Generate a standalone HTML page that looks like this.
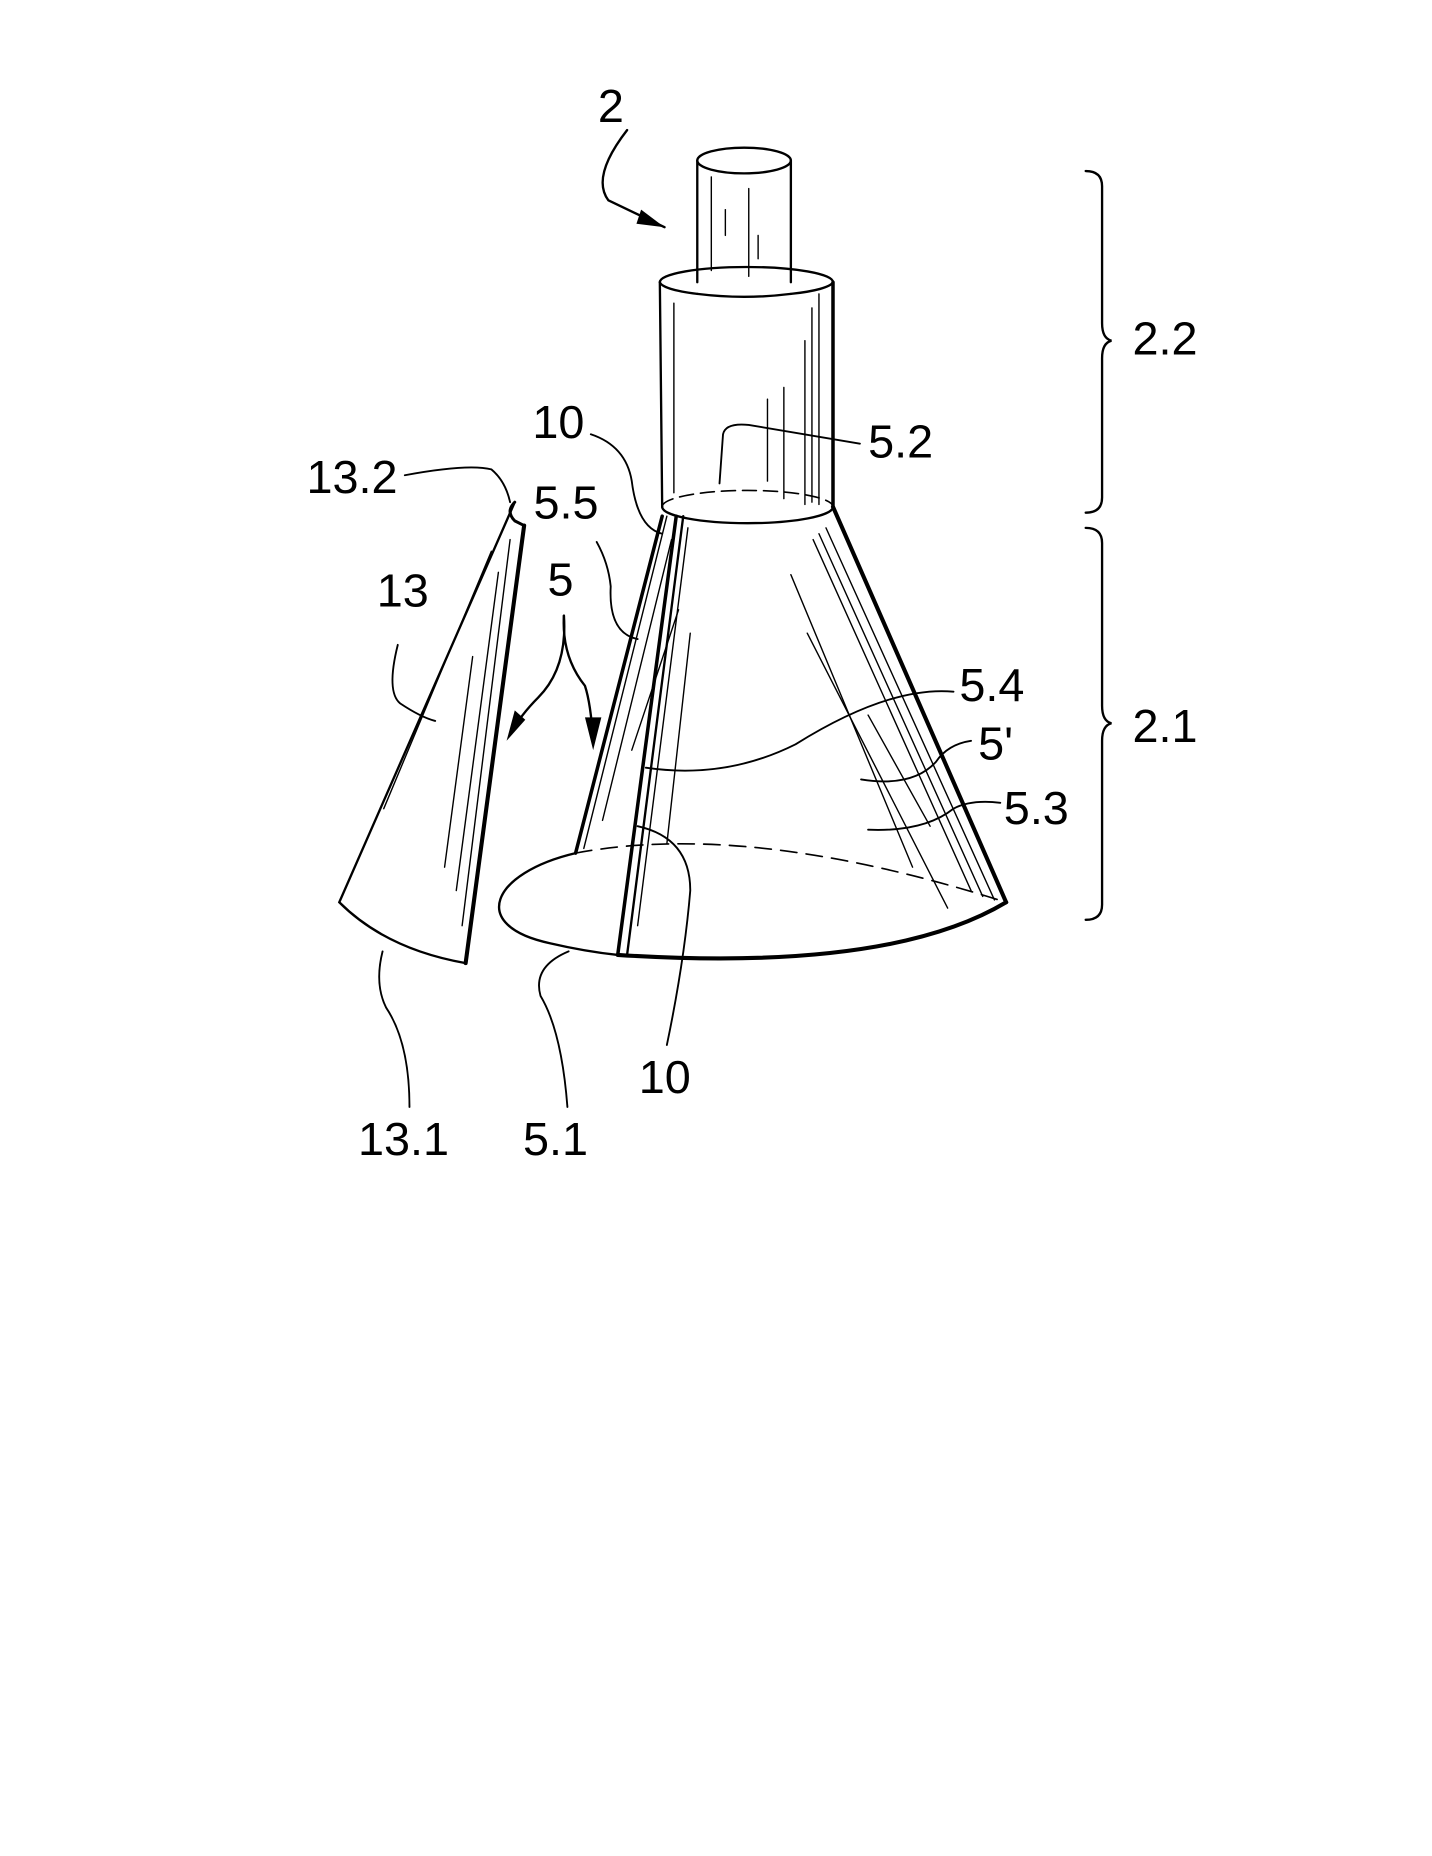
<!DOCTYPE html>
<html><head><meta charset="utf-8"><style>
html,body{margin:0;padding:0;background:#fff;}
svg{display:block;}
text{font-family:"Liberation Sans",sans-serif;font-size:40px;fill:#000;}
</style></head><body>
<svg width="1432" height="1856" viewBox="0 0 1224 1584" xmlns="http://www.w3.org/2000/svg">
<g fill="none" stroke="#000" stroke-width="2" stroke-linecap="round">
<ellipse cx="636" cy="136" rx="40" ry="11" fill="#fff"/>
<line x1="596" y1="136" x2="596" y2="240"/>
<line x1="676" y1="136" x2="676" y2="240"/>
<line x1="608" y1="150" x2="608" y2="230" stroke-width="1.2"/>
<line x1="620" y1="178" x2="620" y2="200" stroke-width="1.2"/>
<line x1="640" y1="160" x2="640" y2="235" stroke-width="1.2"/>
<line x1="648" y1="200" x2="648" y2="220" stroke-width="1.2"/>
<path d="M564 240 A74 13 0 0 1 712 240" />
<path d="M564 240 A74 13 0 0 0 596 250" />
<path d="M676 250 A74 13 0 0 0 712 240" />
<path d="M596 250 Q636 255 676 250" />
<line x1="564" y1="240" x2="566" y2="432"/>
<line x1="712" y1="240" x2="712" y2="432" stroke-width="3"/>
<line x1="576" y1="258" x2="576" y2="420" stroke-width="1.2"/>
<line x1="694" y1="262" x2="694" y2="428" stroke-width="1.2"/>
<line x1="700" y1="250" x2="700" y2="430" stroke-width="1.2"/>
<line x1="670" y1="330" x2="670" y2="425" stroke-width="1.2"/>
<line x1="656" y1="340" x2="656" y2="410" stroke-width="1.2"/>
<line x1="688" y1="290" x2="688" y2="430" stroke-width="1.2"/>
<path d="M566 432 A73 14 0 0 1 712 432" stroke-dasharray="12 6" stroke-width="1.4"/>
<path d="M566 432 A73 14 0 0 0 712 432"/>
<line x1="566" y1="440" x2="492" y2="728" stroke-width="3"/>
<line x1="712" y1="432" x2="860" y2="770" stroke-width="3.5"/>
<line x1="570" y1="440" x2="499" y2="724" stroke-width="1.2"/>
<line x1="578" y1="440" x2="528" y2="815" stroke-width="3"/>
<line x1="584" y1="440" x2="536" y2="815" stroke-width="2"/>
<line x1="574" y1="460" x2="515" y2="700" stroke-width="1.2"/>
<line x1="588" y1="450" x2="545" y2="790" stroke-width="1.2"/>
<line x1="580" y1="520" x2="540" y2="640" stroke-width="1.2"/>
<line x1="590" y1="540" x2="570" y2="720" stroke-width="1.2"/>
<line x1="695" y1="460" x2="830" y2="760" stroke-width="1.2"/>
<line x1="700" y1="455" x2="840" y2="765" stroke-width="1.2"/>
<line x1="706" y1="450" x2="850" y2="768" stroke-width="1.2"/>
<line x1="676" y1="490" x2="780" y2="740" stroke-width="1.2"/>
<line x1="690" y1="540" x2="810" y2="775" stroke-width="1.2"/>
<line x1="742" y1="610" x2="795" y2="705" stroke-width="1.2"/>
<path d="M492 728 Q640 700 860 770" stroke-dasharray="14 8" stroke-width="1.4"/>
<path d="M492 728 C420 745 400 790 470 805 Q500 812 528 815"/>
<path d="M528 815 Q760 830 860 770" stroke-width="3.5"/>
<path d="M440 428 L290 770 Q330 810 398 822"/>
<line x1="448" y1="448" x2="398" y2="822" stroke-width="3.5"/>
<path d="M440 428 Q432 436 440 444 L448 448" stroke-width="2.5"/>
<line x1="436" y1="460" x2="395" y2="790" stroke-width="1.2"/>
<line x1="426" y1="488" x2="390" y2="760" stroke-width="1.2"/>
<line x1="420" y1="470" x2="328" y2="690" stroke-width="1.2"/>
<line x1="404" y1="560" x2="380" y2="740" stroke-width="1.2"/>
<path d="M536 110 Q505 150 520 170 L568 193"/>
<path d="M346 405 Q400 395 420 400 Q432 410 436 428" stroke-width="1.6"/>
<path d="M505 370 Q535 380 540 410 Q545 450 566 455" stroke-width="1.6"/>
<path d="M615 412 L618 370 Q620 360 640 362 L735 378" stroke-width="1.6"/>
<path d="M510 462 Q520 480 522 500 Q520 540 545 545" stroke-width="1.6"/>
<path d="M482 525 Q480 560 500 585 Q505 600 507 632" stroke-width="2"/>
<path d="M482 525 Q485 570 460 595 Q445 610 437 625" stroke-width="2"/>
<path d="M340 550 Q330 590 342 600 Q360 612 372 615" stroke-width="1.6"/>
<path d="M552 655 Q620 665 680 635 Q760 585 815 590" stroke-width="1.6"/>
<path d="M736 665 Q780 672 800 650 Q810 635 830 632" stroke-width="1.6"/>
<path d="M742 708 Q790 710 815 690 Q830 682 855 685" stroke-width="1.6"/>
<path d="M545 705 Q590 715 590 760 Q585 820 570 892" stroke-width="1.6"/>
<path d="M486 812 Q455 825 462 850 Q480 880 485 945" stroke-width="1.6"/>
<path d="M327 812 Q320 840 330 860 Q350 890 350 945" stroke-width="1.6"/>
<path d="M928 145 Q942 145 942 158 L942 275 Q942 288 950 290 Q942 292 942 305 L942 424 Q942 437 928 437"/>
<path d="M928 450 Q942 450 942 463 L942 602 Q942 615 950 617 Q942 619 942 632 L942 772 Q942 785 928 785"/>
</g>
<g fill="#000">
<path d="M568 193 L548 178 L544 190 Z"/>
<path d="M507 640 L500 612 L514 612 Z"/>
<path d="M433 632 L440 606 L449 614 Z"/>
</g>
<text x="511" y="103">2</text>
<text x="968" y="302">2.2</text>
<text x="968" y="633">2.1</text>
<text x="455" y="373">10</text>
<text x="742" y="390">5.2</text>
<text x="262" y="420">13.2</text>
<text x="456" y="442">5.5</text>
<text x="322" y="517">13</text>
<text x="468" y="508">5</text>
<text x="820" y="598">5.4</text>
<text x="836" y="648">5'</text>
<text x="858" y="703">5.3</text>
<text x="546" y="933">10</text>
<text x="306" y="986">13.1</text>
<text x="447" y="986">5.1</text>
</svg>
</body></html>
